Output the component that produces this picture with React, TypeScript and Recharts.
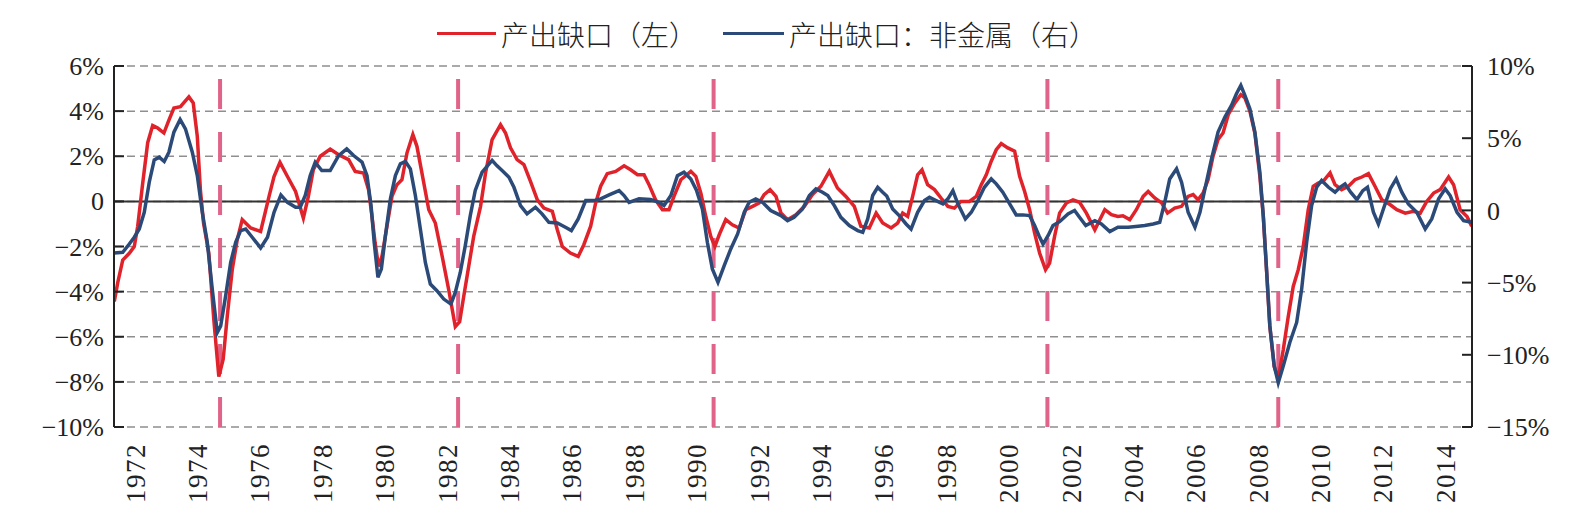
import React from 'react';
import { LineChart, Line, XAxis, YAxis, CartesianGrid, ReferenceLine } from 'recharts';

// output gap (left axis, %) vs non-metal output gap (right axis, %)
const redYears = [
  1971.34, 1971.45, 1971.61, 1971.82, 1971.98, 1972.09, 1972.25, 1972.41, 1972.57, 1972.73, 1972.93,
  1973.09, 1973.25, 1973.46, 1973.73, 1973.87, 1974.0, 1974.1, 1974.2, 1974.37, 1974.53, 1974.69,
  1974.83, 1974.96, 1975.12, 1975.28, 1975.44, 1975.71, 1976.03, 1976.3, 1976.46, 1976.65, 1976.89,
  1977.15, 1977.4, 1977.56, 1977.72, 1977.94, 1978.26, 1978.53, 1978.85, 1979.06, 1979.33, 1979.49,
  1979.6, 1979.7, 1979.81, 1979.92, 1980.08, 1980.24, 1980.4, 1980.56, 1980.72, 1980.91, 1981.04,
  1981.2, 1981.42, 1981.63, 1981.85, 1982.06, 1982.27, 1982.41, 1982.54, 1982.7, 1982.86, 1983.08,
  1983.24, 1983.45, 1983.72, 1983.88, 1984.04, 1984.25, 1984.47, 1984.68, 1984.9, 1985.11, 1985.38,
  1985.54, 1985.7, 1985.96, 1986.21, 1986.39, 1986.61, 1986.77, 1986.93, 1987.14, 1987.41, 1987.68,
  1987.89, 1988.11, 1988.32, 1988.48, 1988.69, 1988.91, 1989.12, 1989.28, 1989.5, 1989.82, 1989.98,
  1990.14, 1990.3, 1990.46, 1990.59, 1990.73, 1990.94, 1991.15, 1991.37, 1991.58, 1991.8, 1992.01,
  1992.17, 1992.36, 1992.55, 1992.71, 1992.92, 1993.19, 1993.46, 1993.72, 1993.99, 1994.26, 1994.52,
  1994.79, 1995.06, 1995.27, 1995.54, 1995.76, 1995.97, 1996.24, 1996.45, 1996.61, 1996.77, 1996.93,
  1997.09, 1997.23, 1997.41, 1997.63, 1997.84, 1998.06, 1998.27, 1998.48, 1998.75, 1998.97, 1999.13,
  1999.29, 1999.45, 1999.61, 1999.77, 1999.98, 2000.2, 2000.36, 2000.52, 2000.68, 2000.84, 2001.0,
  2001.19, 2001.32, 2001.48, 2001.64, 2001.86, 2002.07, 2002.28, 2002.5, 2002.77, 2002.93, 2003.09,
  2003.3, 2003.51, 2003.67, 2003.89, 2004.1, 2004.32, 2004.48, 2004.69, 2004.91, 2005.1, 2005.33,
  2005.55, 2005.76, 2005.92, 2006.08, 2006.24, 2006.4, 2006.56, 2006.72, 2006.88, 2007.05, 2007.26,
  2007.45, 2007.58, 2007.74, 2007.9, 2008.06, 2008.17, 2008.28, 2008.38, 2008.52, 2008.65, 2008.81,
  2008.97, 2009.13, 2009.29, 2009.45, 2009.61, 2009.77, 2009.93, 2010.09, 2010.31, 2010.47, 2010.68,
  2010.9, 2011.11, 2011.33, 2011.54, 2011.75, 2011.97, 2012.24, 2012.45, 2012.72, 2012.98, 2013.2,
  2013.41, 2013.63, 2013.84, 2014.11, 2014.27, 2014.48, 2014.7, 2014.85,
];
const redValues = [
  -4.44, -3.6, -2.6, -2.3, -2.0, -1.1, 0.8, 2.6, 3.36, 3.25, 3.03,
  3.6, 4.14, 4.2, 4.63, 4.36, 2.88, 0.5, -0.96, -2.3, -5.25, -7.77,
  -7.0, -5.1, -3.03, -1.7, -0.81, -1.18, -1.33, 0.22, 1.1, 1.73, 1.1,
  0.44, -0.74, 0.22, 1.4, 2.0, 2.32, 2.07, 1.85, 1.33, 1.26, 0.52,
  -0.67, -1.85, -2.88, -2.44, -1.1, 0.22, 0.74, 0.96, 2.14, 2.96, 2.44,
  1.26, -0.37, -0.96, -2.44, -3.92, -5.55, -5.33, -4.22, -2.88, -1.55, -0.22,
  1.26, 2.74, 3.4, 3.03, 2.37, 1.85, 1.63, 0.89, 0.07, -0.3, -0.44,
  -1.26, -2.0, -2.29, -2.44, -1.92, -1.1, -0.07, 0.67, 1.23, 1.33, 1.58,
  1.4, 1.18, 1.18, 0.74, 0.07, -0.37, -0.37, 0.22, 0.96, 1.33, 1.11,
  0.37, -0.67, -1.55, -2.0, -1.48, -0.81, -1.04, -1.18, -0.37, -0.22, -0.07,
  0.3, 0.52, 0.22, -0.52, -0.81, -0.59, -0.22, 0.3, 0.67, 1.33, 0.59,
  0.22, -0.22, -1.1, -1.18, -0.52, -0.96, -1.18, -0.96, -0.52, -0.67, 0.22,
  1.18, 1.4, 0.74, 0.52, 0.15, -0.22, -0.3, 0, 0, 0.22, 0.74,
  1.18, 1.78, 2.29, 2.56, 2.37, 2.22, 1.11, 0.44, -0.37, -1.41, -2.29,
  -3.03, -2.74, -1.55, -0.52, -0.07, 0.07, -0.04, -0.52, -1.26, -0.81, -0.37,
  -0.59, -0.67, -0.64, -0.81, -0.37, 0.22, 0.44, 0.15, -0.07, -0.52, -0.3,
  -0.22, 0.22, 0.3, 0.07, 0.37, 0.96, 2.0, 2.74, 3.03, 3.85, 4.36,
  4.73, 4.59, 4.0, 3.03, 1.11, -0.67, -3.18, -5.55, -7.32, -7.84, -6.58,
  -5.1, -3.77, -3.03, -2.0, -0.37, 0.67, 0.81, 0.89, 1.26, 0.74, 0.52,
  0.67, 0.96, 1.08, 1.23, 0.67, 0.07, -0.15, -0.37, -0.52, -0.44, -0.52,
  0, 0.37, 0.52, 1.08, 0.74, -0.37, -0.67, -1.1,
];

const blueYears = [
  1971.34, 1971.61, 1971.82, 1971.98, 1972.14, 1972.3, 1972.46, 1972.62, 1972.78, 1972.94, 1973.09,
  1973.25, 1973.45, 1973.62, 1973.84, 1974.0, 1974.16, 1974.32, 1974.48, 1974.64, 1974.75, 1974.91,
  1975.07, 1975.23, 1975.39, 1975.55, 1975.76, 1976.03, 1976.25, 1976.46, 1976.68, 1976.89, 1977.15,
  1977.3, 1977.46, 1977.62, 1977.78, 1977.99, 1978.26, 1978.53, 1978.79, 1979.01, 1979.28, 1979.44,
  1979.57, 1979.67, 1979.79, 1979.9, 1980.03, 1980.19, 1980.35, 1980.51, 1980.67, 1980.83, 1980.99,
  1981.15, 1981.31, 1981.47, 1981.68, 1981.9, 1982.13, 1982.27, 1982.43, 1982.59, 1982.75, 1982.91,
  1983.13, 1983.45, 1983.6, 1983.77, 1983.99, 1984.15, 1984.36, 1984.57, 1984.84, 1985.05, 1985.27,
  1985.54, 1985.8, 1985.99, 1986.21, 1986.45, 1986.71, 1986.93, 1987.2, 1987.52, 1987.68, 1987.84,
  1988.16, 1988.53, 1988.8, 1988.96, 1989.18, 1989.39, 1989.6, 1989.82, 1990.0, 1990.19, 1990.35,
  1990.51, 1990.69, 1990.89, 1991.1, 1991.32, 1991.53, 1991.69, 1991.9, 1992.12, 1992.38, 1992.71,
  1992.92, 1993.13, 1993.4, 1993.62, 1993.83, 1994.04, 1994.21, 1994.42, 1994.63, 1994.9, 1995.17,
  1995.33, 1995.49, 1995.65, 1995.81, 1995.97, 1996.1, 1996.29, 1996.5, 1996.72, 1996.88, 1997.09,
  1997.31, 1997.47, 1997.68, 1997.9, 1998.06, 1998.22, 1998.38, 1998.62, 1998.81, 1999.02, 1999.23,
  1999.45, 1999.61, 1999.82, 2000.04, 2000.25, 2000.46, 2000.68, 2000.84, 2000.98, 2001.11, 2001.27,
  2001.43, 2001.64, 2001.91, 2002.12, 2002.28, 2002.48, 2002.77, 2002.98, 2003.25, 2003.51, 2003.84,
  2004.16, 2004.37, 2004.64, 2004.85, 2005.01, 2005.17, 2005.39, 2005.55, 2005.76, 2005.98, 2006.14,
  2006.3, 2006.51, 2006.72, 2006.94, 2007.15, 2007.31, 2007.45, 2007.58, 2007.74, 2007.9, 2008.06,
  2008.17, 2008.28, 2008.38, 2008.52, 2008.65, 2008.81, 2009.02, 2009.24, 2009.4, 2009.56, 2009.72,
  2009.88, 2010.04, 2010.26, 2010.47, 2010.63, 2010.79, 2010.97, 2011.17, 2011.36, 2011.51, 2011.7,
  2011.86, 2012.02, 2012.24, 2012.43, 2012.61, 2012.82, 2013.09, 2013.36, 2013.57, 2013.79, 2014.0,
  2014.16, 2014.38, 2014.59, 2014.85,
];
const blueValues = [
  -2.95, -2.9, -2.33, -1.86, -1.29, -0.13, 1.95, 3.5, 3.69, 3.39, 4.03,
  5.42, 6.3, 5.65, 4.03, 2.41, -0.13, -2.21, -5.45, -8.46, -8.0, -5.9,
  -3.6, -2.21, -1.4, -1.29, -1.86, -2.6, -1.86, -0.13, 1.07, 0.56, 0.22,
  0.22, 1.03, 2.41, 3.34, 2.76, 2.76, 3.8, 4.26, 3.8, 3.34, 2.41,
  0.33, -2.21, -4.64, -4.06, -1.75, 0.8, 2.41, 3.22, 3.39, 2.88, 1.03,
  -1.29, -3.6, -5.1, -5.56, -6.14, -6.49, -5.68, -4.3, -2.44, -0.36, 1.38,
  2.65, 3.46, 3.1, 2.76, 2.3, 1.6, 0.33, -0.24, 0.22, -0.24, -0.82,
  -0.87, -1.17, -1.4, -0.59, 0.68, 0.68, 0.8, 1.07, 1.37, 1.03, 0.56,
  0.8, 0.75, 0.56, 0.33, 1.03, 2.41, 2.65, 2.18, 1.4, 0.1, -2.21,
  -4.06, -4.98, -3.83, -2.67, -1.63, -0.13, 0.56, 0.8, 0.56, -0.01, -0.36,
  -0.71, -0.48, 0.1, 1.03, 1.49, 1.26, 1.03, 0.33, -0.48, -1.05, -1.4,
  -1.52, -0.59, 1.03, 1.6, 1.26, 1.0, 0.1, -0.36, -0.94, -1.29, -0.13,
  0.68, 0.91, 0.68, 0.45, 0.8, 1.37, 0.45, -0.59, -0.13, 0.68, 1.6,
  2.18, 1.84, 1.26, 0.45, -0.31, -0.31, -0.36, -1.05, -1.75, -2.33, -1.75,
  -1.05, -0.78, -0.24, -0.01, -0.48, -1.05, -0.71, -0.94, -1.47, -1.17, -1.17,
  -1.1, -1.05, -0.94, -0.82, 0.56, 2.18, 2.88, 1.95, -0.13, -1.17, -0.13,
  1.49, 3.57, 5.42, 6.46, 7.27, 8.08, 8.66, 7.96, 7.04, 5.42, 2.65,
  -0.36, -4.3, -8.0, -10.77, -11.93, -10.77, -9.15, -7.76, -5.45, -2.21, 0.33,
  1.6, 2.07, 1.6, 1.26, 1.6, 1.84, 1.26, 0.75, 1.37, 1.6, -0.13,
  -0.94, 0.1, 1.49, 2.18, 1.26, 0.45, -0.13, -1.29, -0.59, 0.8, 1.49,
  1.03, -0.13, -0.71, -0.82,
];

const recessions = [1974.73, 1982.36, 1990.55, 2001.25, 2008.65];
const yearTicks = [1972, 1974, 1976, 1978, 1980, 1982, 1984, 1986, 1988, 1990, 1992, 1994, 1996, 1998, 2000, 2002, 2004, 2006, 2008, 2010, 2012, 2014];
const leftTicks = [-10, -8, -6, -4, -2, 0, 2, 4, 6];
const rightTicks = [-15, -10, -5, 0, 5, 10];

const redName = '产出缺口（左）';
const blueName = '产出缺口：非金属（右）';

const RED = '#E0222B';
const BLUE = '#2C4A78';
const PINK = '#E0648A';
const SERIF = '"Liberation Serif", "Times New Roman", serif';
const CJK = '"Noto Sans CJK SC", "Liberation Serif", sans-serif';

const redData = redYears.map((x, i) => ({ x, v: redValues[i] }));
const blueData = blueYears.map((x, i) => ({ x, v: blueValues[i] }));

const pct = (v: number) => (v === 0 ? '0' : `${v < 0 ? '−' : ''}${Math.abs(v)}%`);

const LeftTick = ({ x, y, payload }: any) => (
  <g>
    <line x1={x + 10} x2={x + 20} y1={y} y2={y} stroke="#222" strokeWidth={2} />
    <text x={x} y={y} dy="0.35em" textAnchor="end" fontSize={26} fontFamily={SERIF} fill="#222">
      {pct(payload.value)}
    </text>
  </g>
);

const RightTick = ({ x, y, payload }: any) => (
  <g>
    <line x1={x - 15} x2={x - 25} y1={y} y2={y} stroke="#222" strokeWidth={2} />
    <text x={x} y={y} dy="0.35em" textAnchor="start" fontSize={26} fontFamily={SERIF} fill="#222">
      {pct(payload.value)}
    </text>
  </g>
);

const YearTick = ({ x, y, payload }: any) => (
  <text
    x={x}
    y={y}
    transform={`rotate(-90, ${x}, ${y})`}
    dy="0.36em"
    textAnchor="end"
    fontSize={27}
    letterSpacing={1.5}
    fontFamily={SERIF}
    fill="#222"
  >
    {payload.value}
  </text>
);

export default function App() {
  return (
    <div style={{ position: 'absolute', left: 0, top: 0, width: 1586, height: 525, background: '#fff' }}>
      <div style={{ position: 'absolute', left: 437, top: 32, width: 59, height: 3, background: RED }} />
      <div style={{ position: 'absolute', left: 501, top: 14, fontSize: 28, lineHeight: '40px', fontFamily: CJK, fontWeight: 300, color: '#222' }}>
        {redName}
      </div>
      <div style={{ position: 'absolute', left: 723, top: 32, width: 61, height: 3, background: BLUE }} />
      <div style={{ position: 'absolute', left: 789, top: 14, fontSize: 28, lineHeight: '40px', fontFamily: CJK, fontWeight: 300, color: '#222' }}>
        {blueName}
      </div>
      <LineChart width={1586} height={525} margin={{ top: 66, right: 0, bottom: 0, left: 0 }}>
        <CartesianGrid yAxisId="left" vertical={false} stroke="#8f8f8f" strokeWidth={1.5} strokeDasharray="8 5" />
        <XAxis
          type="number"
          dataKey="x"
          domain={[1971.33, 2014.86]}
          ticks={yearTicks}
          allowDataOverflow
          height={98}
          axisLine={false}
          tickLine={false}
          tickSize={0}
          tickMargin={16}
          interval={0}
          tick={YearTick}
        />
        <YAxis
          yAxisId="left"
          orientation="left"
          domain={[-10, 6]}
          ticks={leftTicks}
          width={114}
          allowDataOverflow
          axisLine={{ stroke: '#222', strokeWidth: 2 }}
          tickLine={false}
          tickSize={0}
          tickMargin={10}
          interval={0}
          tick={LeftTick}
        />
        <YAxis
          yAxisId="right"
          orientation="right"
          domain={[-15, 10]}
          ticks={rightTicks}
          width={114}
          allowDataOverflow
          axisLine={{ stroke: '#222', strokeWidth: 2 }}
          tickLine={false}
          tickSize={0}
          tickMargin={15}
          interval={0}
          tick={RightTick}
        />
        <ReferenceLine yAxisId="left" y={0} stroke="#333" strokeWidth={2} />
        {recessions.map((r) => (
          <ReferenceLine key={r} yAxisId="left" x={r} stroke={PINK} strokeWidth={4} strokeDasharray="30 23" />
        ))}
        <Line
          yAxisId="left"
          data={redData}
          dataKey="v"
          name={redName}
          type="linear"
          stroke={RED}
          strokeWidth={3.5}
          dot={false}
          isAnimationActive={false}
        />
        <Line
          yAxisId="right"
          data={blueData}
          dataKey="v"
          name={blueName}
          type="linear"
          stroke={BLUE}
          strokeWidth={3.5}
          dot={false}
          isAnimationActive={false}
        />
      </LineChart>
    </div>
  );
}
